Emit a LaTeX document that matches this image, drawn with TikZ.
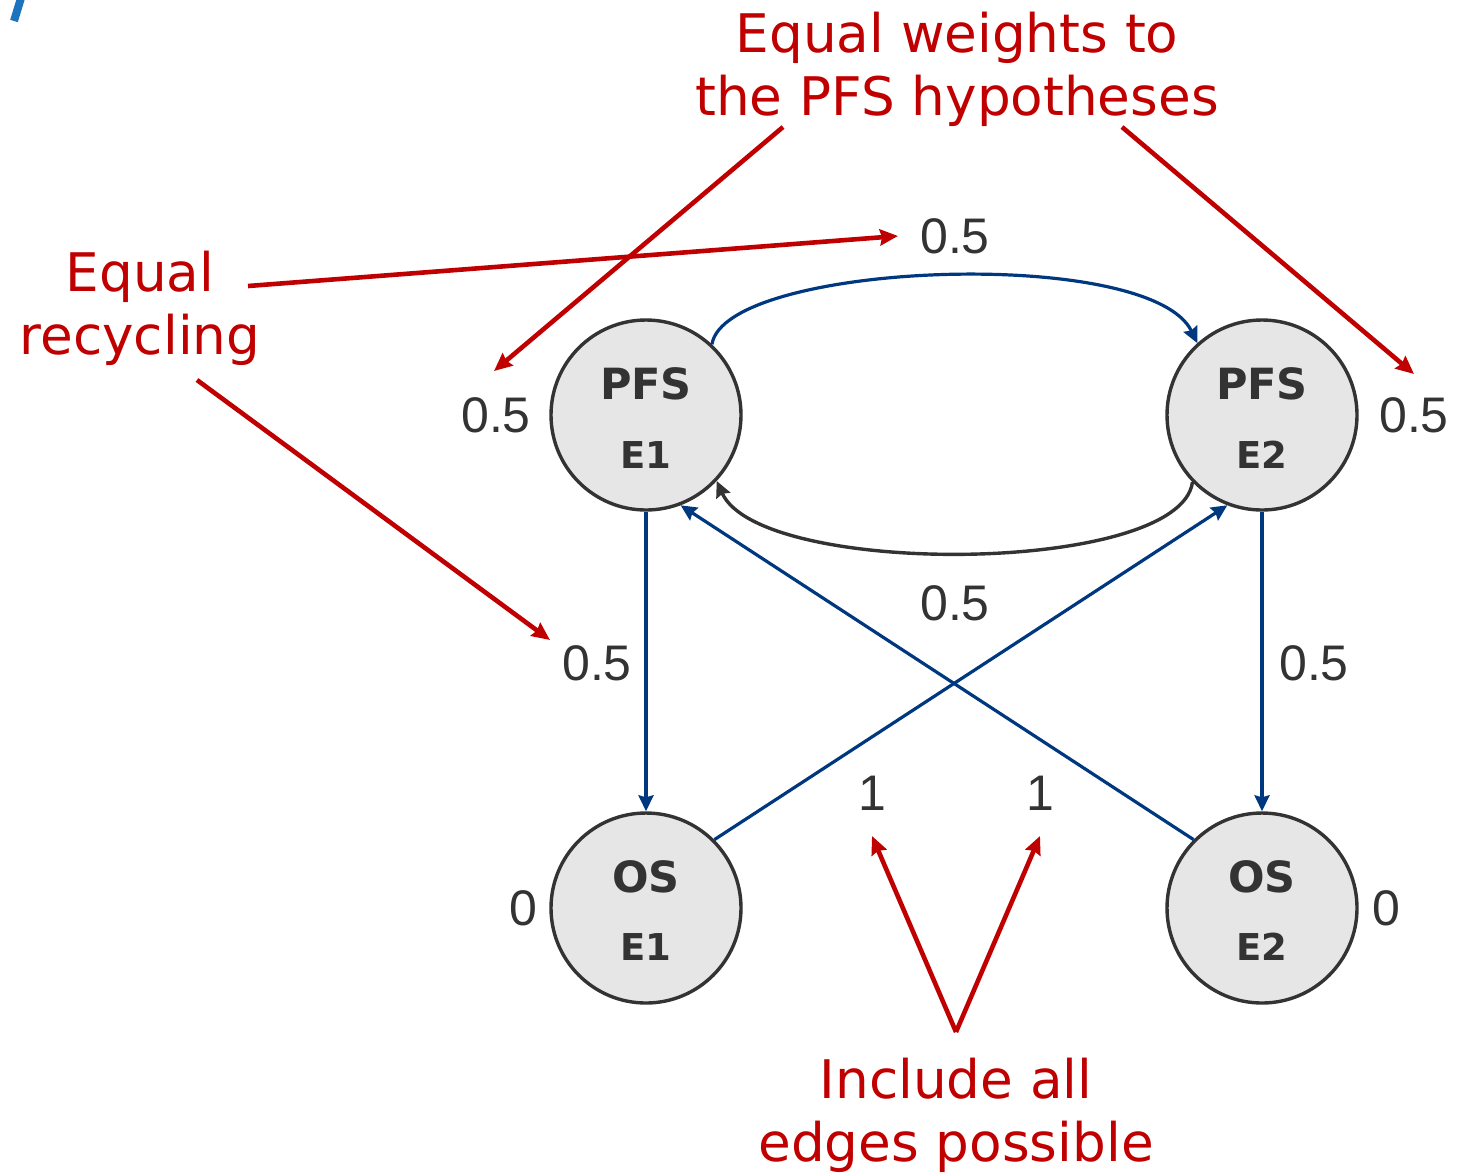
\documentclass[tikz,border=0pt]{standalone}
\usepackage{fontspec}
\setmainfont{Liberation Sans}
\newfontfamily\notefont{DejaVu Sans}
\newfontfamily\statefont{DejaVu Sans}
\usetikzlibrary{arrows.meta}
\definecolor{edgeblue}{RGB}{0,56,128}
\definecolor{notered}{RGB}{192,0,0}
\definecolor{ink}{RGB}{51,51,51}
\definecolor{fillgray}{RGB}{230,230,230}
\definecolor{markblue}{RGB}{30,115,190}
\begin{document}
\begin{tikzpicture}[x=0.5pt,y=-0.5pt,
  state/.style={circle, draw=ink, line width=1.7pt, fill=fillgray, minimum size=95pt, inner sep=0pt},
  statetop/.style={font=\statefont\bfseries\fontsize{21.5pt}{21.5pt}\selectfont, text=ink, inner sep=0pt},
  statesub/.style={font=\statefont\bfseries\fontsize{18.5pt}{18.5pt}\selectfont, text=ink, inner sep=0pt},
  weight/.style={font=\fontsize{25pt}{25pt}\selectfont, text=ink, inner sep=0pt},
  note/.style={font=\notefont\fontsize{26.6pt}{31.5pt}\selectfont, text=notered, align=center, inner sep=0pt},
  flow/.style={draw=edgeblue, line width=1.6pt, -{Stealth[length=8pt,width=7.5pt,inset=1pt]}},
  backflow/.style={draw=ink, line width=1.7pt, -{Stealth[length=8pt,width=7.5pt,inset=1pt]}},
  pointer/.style={draw=notered, line width=2.3pt, -{Stealth[length=9pt,width=8pt,inset=1pt]}}]
\useasboundingbox (0,0) rectangle (1460,1174);

% corner mark
\draw[markblue, line width=4pt] (14,21) -- (21,-2);

% hypotheses
\node[state] (pfs1) at (646,415) {};
\node[state] (pfs2) at (1262,415) {};
\node[state] (os1) at (646,908) {};
\node[state] (os2) at (1262,908) {};
\node[statetop] (pfs1t) at (646,384) {PFS};
\node[statesub] (pfs1s) at (646,455) {E1};
\node[statetop] (pfs2t) at (1262,384) {PFS};
\node[statesub] (pfs2s) at (1262,455) {E2};
\node[statetop] (os1t) at (646,877) {OS};
\node[statesub] (os1s) at (646,947) {E1};
\node[statetop] (os2t) at (1262,877) {OS};
\node[statesub] (os2s) at (1262,947) {E2};

% initial weights
\node[weight] (w1) at (496,415) {0.5};
\node[weight] (w2) at (1414,415) {0.5};
\node[weight] (w3) at (523,908) {0};
\node[weight] (w4) at (1386,908) {0};

% transition weights
\node[weight] (g12) at (955,236) {0.5};
\node[weight] (g21) at (955,603) {0.5};
\node[weight] (g13) at (597,663) {0.5};
\node[weight] (g24) at (1314,663) {0.5};
\node[weight] (g32) at (872,793) {1};
\node[weight] (g41) at (1040,793) {1};

% edges of the graph
\draw[flow] (pfs1.47) .. controls (725,262) and (1150,245) .. (pfs2.132);
\draw[backflow] (pfs2.224) .. controls (1180,575) and (760,578) .. (pfs1.-43);
\draw[flow] (pfs1.south) -- (os1.north);
\draw[flow] (pfs2.south) -- (os2.north);
\draw[flow] (os1.45) -- (pfs2.-111);
\draw[flow] (os2.135) -- (pfs1.-69);

% annotations
\node[note] (nw) at (957,69) {Equal weights to\\the PFS hypotheses};
\node[note] (nr) at (140,308) {Equal\\recycling};
\node[note] (ne) at (956,1115) {Include all\\edges possible};

\coordinate (nwa) at (783,127);
\coordinate (nwb) at (1122,127);
\coordinate (nwa') at (494,371);
\coordinate (nwb') at (1414,374);
\coordinate (nra) at (248,286);
\coordinate (nrb) at (197,380);
\coordinate (nra') at (898,236);
\coordinate (nrb') at (550,640);
\coordinate (nea) at (956,1032);
\coordinate (nea') at (872,836);
\coordinate (neb') at (1040,836);

\draw[pointer] (nwa) -- (nwa');
\draw[pointer] (nwb) -- (nwb');
\draw[pointer] (nra) -- (nra');
\draw[pointer] (nrb) -- (nrb');
\draw[pointer] (nea) -- (nea');
\draw[pointer] (nea) -- (neb');
\end{tikzpicture}
\end{document}
